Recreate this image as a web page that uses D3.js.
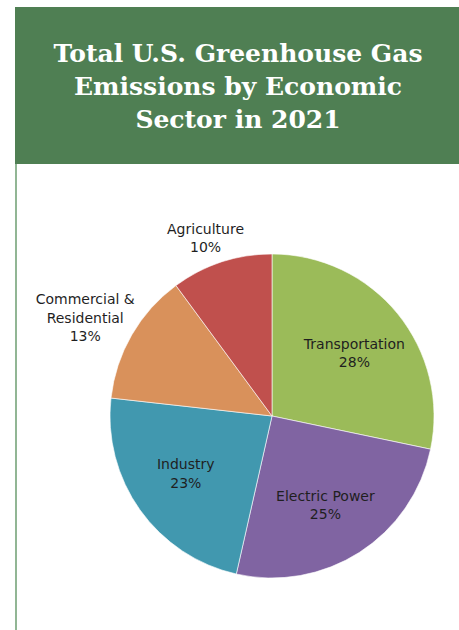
<!DOCTYPE html>
<html>
<head>
<meta charset="utf-8">
<script src="https://cdn.jsdelivr.net/npm/d3@7"></script>
<style>
  html, body { margin: 0; padding: 0; background: #fff; }
  svg { display: block; }
</style>
</head>
<body>
<div id="chart"></div>
<script>
// Sector shares of total U.S. greenhouse gas emissions, 2021 (percent)
const sectors = ["Transportation", "Electric Power", "Industry", "Commercial & Residential", "Agriculture"];
const shares = [28, 25, 23, 13, 10];
const sectorColors = ["#9BBB59", "#8064A2", "#4198AF", "#D9915B", "#C0504D"];
// label lines, one array per slice
const labelLines = [["Transportation"], ["Electric Power"], ["Industry"], ["Commercial &", "Residential"], ["Agriculture"]];
const titleLines = ["Total U.S. Greenhouse Gas", "Emissions by Economic", "Sector in 2021"];

const W = 459, H = 630;
const svg = d3.select("#chart").append("svg").attr("width", W).attr("height", H);

// header band
svg.append("rect").attr("x", 15).attr("y", 7).attr("width", W - 15).attr("height", 157).attr("fill", "#4F7F53");
// thin left rule below header
svg.append("line").attr("x1", 16).attr("x2", 16).attr("y1", 164).attr("y2", H)
  .attr("stroke", "#86AE89").attr("stroke-width", 1.8);

svg.append("g").selectAll("text").data(titleLines).join("text")
  .attr("x", 238).attr("y", (d, i) => 62 + i * 33)
  .attr("text-anchor", "middle")
  .attr("font-family", "DejaVu Serif, serif").attr("font-weight", "bold")
  .attr("font-size", 25).attr("fill", "#fff")
  .text(d => d);

const cx = 272, cy = 416, R = 162;
const data = sectors.map((s, i) => ({ sector: s, value: shares[i], color: sectorColors[i], lines: labelLines[i] }));
const pie = d3.pie().value(d => d.value).sort(null);
const arcs = pie(data);
const arc = d3.arc().innerRadius(0).outerRadius(R);

const g = svg.append("g").attr("transform", `translate(${cx},${cy})`);
g.selectAll("path").data(arcs).join("path")
  .attr("d", arc).attr("fill", d => d.data.color)
  .attr("stroke", "#fff").attr("stroke-width", 0.6);

// labels sit inside the large slices and outside the small ones,
// pushed further out the more lines they carry
const lineH = 18.5;
arcs.forEach(a => {
  const lines = a.data.lines.concat([a.data.value + "%"]);
  const small = a.data.value < 15;
  const r = small ? R + lines.length * 21 - 14 : R * 0.64;
  const mid = (a.startAngle + a.endAngle) / 2 + (small ? -0.04 : 0.03);
  const px = r * Math.sin(mid), py = -r * Math.cos(mid);
  const t = g.append("text")
    .attr("text-anchor", "middle")
    .attr("font-family", "DejaVu Sans, Verdana, sans-serif")
    .attr("font-size", 14).attr("fill", "#1f1f1f");
  const y0 = py - (lines.length - 1) * lineH / 2 + 5;
  lines.forEach((l, k) => t.append("tspan").attr("x", px).attr("y", y0 + k * lineH).text(l));
});
</script>
</body>
</html>
